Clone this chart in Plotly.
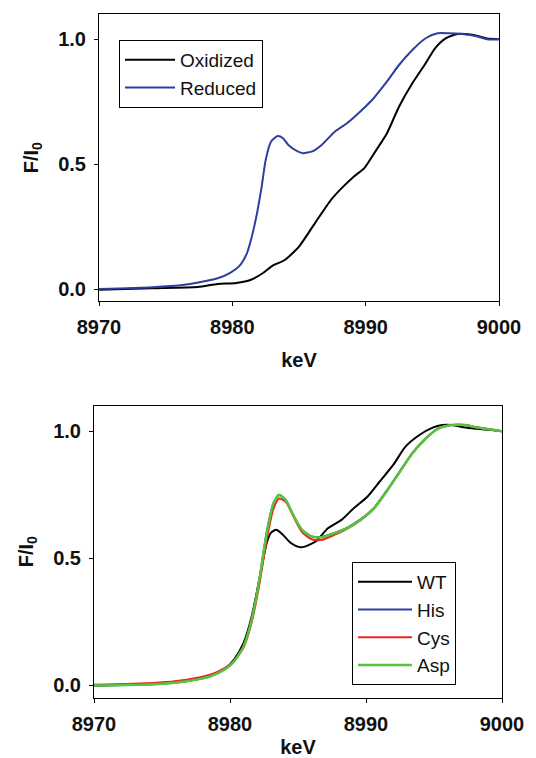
import plotly.graph_objects as go

# ---- Top panel data ----
ox_x = [8970, 8974, 8977.4, 8978.9, 8980.3, 8981.4, 8982.3, 8983.0, 8983.9, 8985.0,
        8986.2, 8987.4, 8988.2, 8989.1, 8989.9, 8990.8, 8991.6, 8992.5, 8993.5, 8994.5,
        8995.2, 8996.0, 8996.9, 8997.7, 8998.4, 8999.1, 9000]
ox_y = [-0.003, 0.003, 0.008, 0.02, 0.024, 0.037, 0.064, 0.093, 0.115, 0.17,
        0.264, 0.357, 0.404, 0.45, 0.484, 0.557, 0.624, 0.73, 0.824, 0.904,
        0.964, 1.004, 1.021, 1.02, 1.013, 1.003, 1.0]

red_x = [8970, 8974, 8976.4, 8977.9, 8978.9, 8979.8, 8980.6, 8981.1, 8981.4, 8981.8,
         8982.2, 8982.5, 8982.9, 8983.4, 8983.8, 8984.2, 8984.9, 8985.3, 8986.0, 8986.7,
         8987.7, 8988.6, 8989.6, 8990.6, 8991.6, 8992.5, 8993.5, 8994.5, 8995.4, 8996.2,
         8997.2, 8998.4, 8999.1, 9000]
red_y = [0.0, 0.007, 0.017, 0.031, 0.043, 0.064, 0.097, 0.144, 0.197, 0.29,
         0.41, 0.517, 0.59, 0.613, 0.604, 0.577, 0.551, 0.544, 0.551, 0.577,
         0.631, 0.664, 0.711, 0.764, 0.831, 0.897, 0.957, 1.004, 1.024, 1.024,
         1.021, 1.011, 1.0, 1.0]

# ---- Bottom panel data ----
wt_x = [8970, 8974.3, 8976.7, 8978.6, 8979.6, 8980.3, 8981.0, 8981.6, 8982.2, 8982.7,
        8983.0, 8983.4, 8983.9, 8984.5, 8985.1, 8985.5, 8986.3, 8987.2, 8988.2, 8989.1,
        8990.1, 8991.0, 8992.0, 8992.9, 8993.9, 8994.9, 8995.6, 8996.3, 8997.3, 8998.2,
        8999.2, 9000]
wt_y = [0.0, 0.008, 0.02, 0.039, 0.065, 0.102, 0.167, 0.272, 0.429, 0.56,
        0.6, 0.612, 0.592, 0.559, 0.544, 0.546, 0.566, 0.618, 0.651, 0.697,
        0.742, 0.801, 0.867, 0.939, 0.984, 1.014, 1.024, 1.024, 1.014, 1.009,
        1.004, 1.0]

mut_x = [8970, 8974.3, 8976.7, 8978.6, 8979.6, 8980.3, 8981.0, 8981.6, 8982.2, 8982.7,
         8983.2, 8983.6, 8984.1, 8984.7, 8985.3, 8986.0, 8986.7, 8987.7, 8988.6, 8989.6,
         8990.6, 8991.5, 8992.5, 8993.4, 8994.4, 8995.3, 8996.3, 8997.3, 8998.2, 8999.2,
         9000]
his_y = [0.0, 0.005, 0.016, 0.037, 0.063, 0.095, 0.154, 0.262, 0.432, 0.603,
         0.718, 0.75, 0.73, 0.665, 0.612, 0.586, 0.584, 0.6, 0.62, 0.653,
         0.699, 0.764, 0.843, 0.913, 0.972, 1.01, 1.024, 1.024, 1.014, 1.006,
         1.0]
cys_y = [0.003, 0.01, 0.022, 0.043, 0.068, 0.097, 0.15, 0.25, 0.41, 0.575,
         0.695, 0.735, 0.722, 0.66, 0.603, 0.575, 0.572, 0.593, 0.616, 0.65,
         0.697, 0.762, 0.842, 0.913, 0.972, 1.01, 1.024, 1.024, 1.014, 1.006,
         1.0]
asp_y = [0.0, 0.005, 0.016, 0.037, 0.063, 0.095, 0.154, 0.259, 0.429, 0.6,
         0.716, 0.749, 0.729, 0.664, 0.612, 0.586, 0.583, 0.599, 0.618, 0.651,
         0.697, 0.762, 0.841, 0.912, 0.971, 1.01, 1.024, 1.024, 1.014, 1.006,
         1.0]

x_ticks = [8970, 8980, 8990, 9000]
y_ticks = [0.0, 0.5, 1.0]

BLACK = "#000000"
BLUE = "#2d3e9e"
RED = "#e8271f"
GREEN = "#57c43e"

fig = go.Figure()

def add(x, y, name, color, xa, ya, leg, w=2):
    fig.add_trace(go.Scatter(x=x, y=y, mode="lines", name=name,
                             line=dict(color=color, width=w, shape="spline", smoothing=0.6),
                             xaxis=xa, yaxis=ya, legend=leg))

add(ox_x, ox_y, "Oxidized", BLACK, "x", "y", "legend")
add(red_x, red_y, "Reduced", BLUE, "x", "y", "legend")
add(wt_x, wt_y, "WT", BLACK, "x2", "y2", "legend2")
add(mut_x, his_y, "His", BLUE, "x2", "y2", "legend2")
add(mut_x, cys_y, "Cys", RED, "x2", "y2", "legend2")
add(mut_x, asp_y, "Asp", GREEN, "x2", "y2", "legend2", w=2.5)

FONT = "Liberation Sans, Arial, sans-serif"
tickfont = dict(family=FONT, size=20, color="#111111", weight="bold")
titlefont = dict(family=FONT, size=20, color="#111111", weight="bold")

def xaxis(domain, anchor):
    return dict(domain=domain, anchor=anchor, range=[8970, 9000], tickvals=x_ticks,
                ticks="outside", ticklen=4, tickcolor="black", showline=True,
                linecolor="black", linewidth=1, mirror=True, showgrid=False,
                zeroline=False, tickfont=tickfont, ticklabelstandoff=4, automargin=False,
                title=dict(text="<b>keV</b>", font=titlefont, standoff=15))

def yaxis(domain, anchor):
    return dict(domain=domain, anchor=anchor, range=[-0.048, 1.1], tickvals=y_ticks,
                tickformat=".1f", ticks="outside", ticklen=4, tickcolor="black",
                showline=True, linecolor="black", linewidth=1, mirror=True,
                showgrid=False, zeroline=False, tickfont=tickfont, ticklabelstandoff=4,
                automargin=False,
                title=dict(text="<b>F/I<sub>0</sub></b>", font=titlefont, standoff=14))

legfont = dict(family=FONT, size=19, color="#111111")

W, H = 536, 758
fig.update_layout(
    width=W, height=H, margin=dict(l=0, r=0, t=0, b=0, autoexpand=False),
    plot_bgcolor="white", paper_bgcolor="white",
    xaxis=xaxis([99 / W, 499 / W], "y"),
    yaxis=yaxis([1 - 301 / H, 1 - 14.3 / H], "x"),
    xaxis2=xaxis([94 / W, 502 / W], "y2"),
    yaxis2=yaxis([1 - 697.7 / H, 1 - 405.7 / H], "x2"),
    legend=dict(x=119 / W, y=1 - 40 / H, xanchor="left", yanchor="top",
                bordercolor="black", borderwidth=1, bgcolor="white",
                font=legfont, tracegroupgap=0, itemwidth=50),
    legend2=dict(x=352 / W, y=1 - 562 / H, xanchor="left", yanchor="top",
                 bordercolor="black", borderwidth=1, bgcolor="white",
                 font=legfont, tracegroupgap=0, itemwidth=54),
    showlegend=True,
)

fig.write_html("out.html")
